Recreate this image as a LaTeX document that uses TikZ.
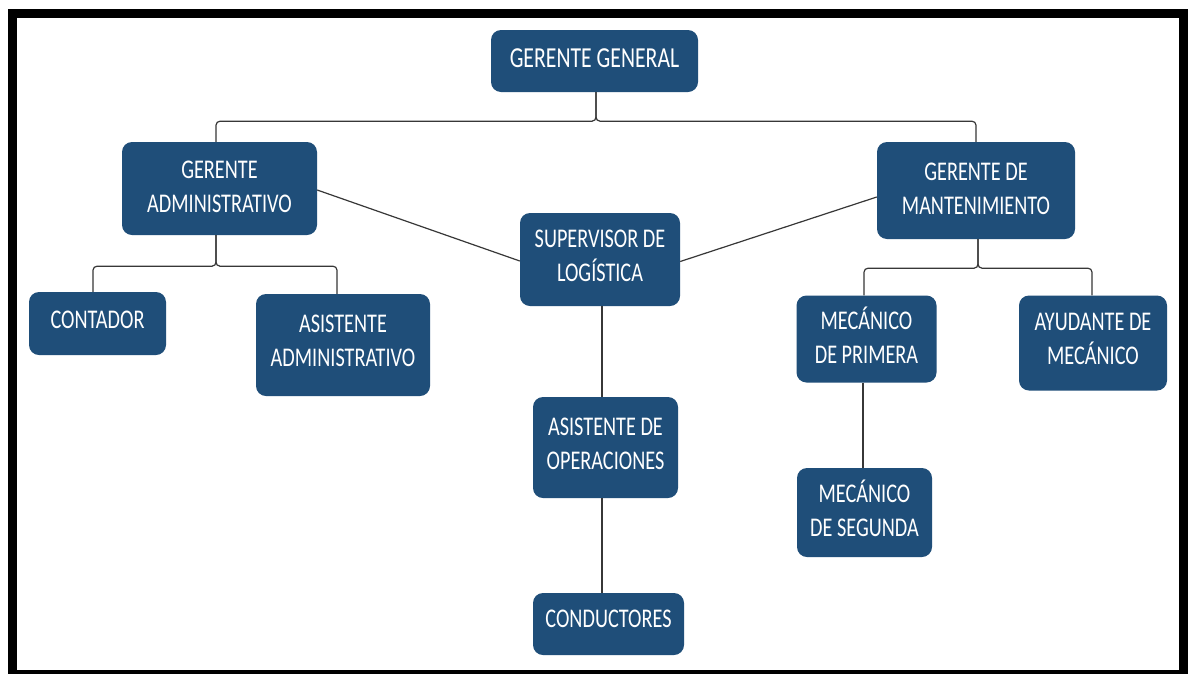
\documentclass[tikz,border=0pt]{standalone}
\usepackage{fontspec}
\usetikzlibrary{calc}
\setmainfont{Carlito}[FakeStretch=0.75]
\definecolor{boxblue}{RGB}{31,78,121}
\definecolor{linegray}{RGB}{55,55,55}
\tikzset{
  orgbox/.style={fill=boxblue, rounded corners=10pt, text=white, align=center,
    font=\fontsize{27}{34}\selectfont, inner sep=0pt, text depth=8pt},
  link/.style={draw=linegray, line width=1.2pt},
  brace/.style={link, rounded corners=4pt}
}
\begin{document}
\begin{tikzpicture}[x=1pt, y=-1pt]
\useasboundingbox (0,0) rectangle (1192,673);
\fill[white] (0,0) rectangle (1192,673);
% outer frame
\draw[line width=9pt] (12.5,13) rectangle (1183,674.5);

% boxes (centre, width, height)
\node[orgbox, minimum width=207pt, minimum height=62pt, font=\fontsize{29}{34}\selectfont, text depth=6pt] (gg) at (594.5,61) {GERENTE GENERAL};
\node[orgbox, minimum width=195pt, minimum height=93pt, text depth=4pt] (ga) at (219.5,188.5) {GERENTE\\ADMINISTRATIVO};
\node[orgbox, minimum width=198pt, minimum height=97pt, text depth=4pt] (gm) at (976,190.5) {GERENTE DE\\MANTENIMIENTO};
\node[orgbox, minimum width=160pt, minimum height=93pt] (sl) at (600,259.5) {SUPERVISOR DE\\LOGÍSTICA};
\node[orgbox, minimum width=137pt, minimum height=63pt] (cont) at (97.5,323.5) {CONTADOR};
\node[orgbox, minimum width=174pt, minimum height=102pt] (aa) at (343,345) {ASISTENTE\\ADMINISTRATIVO};
\node[orgbox, minimum width=140pt, minimum height=87pt] (mp) at (866.5,339) {MECÁNICO\\DE PRIMERA};
\node[orgbox, minimum width=148pt, minimum height=95pt] (ay) at (1093,343) {AYUDANTE DE\\MECÁNICO};
\node[orgbox, minimum width=135pt, minimum height=89pt] (ms) at (864.5,512.5) {MECÁNICO\\DE SEGUNDA};
\node[orgbox, minimum width=145pt, minimum height=101pt] (ao) at (605.5,447.5) {ASISTENTE DE\\OPERACIONES};
\node[orgbox, minimum width=151pt, minimum height=62pt, text depth=11pt] (cd) at (608.5,624) {CONDUCTORES};

% top level brace
\coordinate (ggj) at ([xshift=1.5pt]gg.south);
\draw[brace] ([xshift=-3.5pt]ga.north) |- ($(ggj)+(0,29)$) -- (ggj);
\draw[brace] (gm.north) |- ($(ggj)+(0,29)$) -- (ggj);

% administrative brace
\coordinate (gaj) at ([xshift=-3.5pt]ga.south);
\draw[brace] ([xshift=-4.5pt]cont.north) |- ($(gaj)+(0,31)$) -- (gaj);
\draw[brace] ([xshift=-6pt]aa.north) |- ($(gaj)+(0,31)$) -- (gaj);

% maintenance brace
\coordinate (gmj) at ([xshift=2pt]gm.south);
\draw[brace] ([xshift=-2.5pt]mp.north) |- ($(gmj)+(0,29)$) -- (gmj);
\draw[brace] ([xshift=-1pt]ay.north) |- ($(gmj)+(0,29)$) -- (gmj);

% diagonal links to logistics
\draw[link] ([yshift=-1.5pt]ga.east) -- ([yshift=-1.5pt]sl.west);
\draw[link] ([yshift=-6.5pt]gm.west) -- ([yshift=-2pt]sl.east);

% vertical chains
\draw[link] ([xshift=2pt]sl.south) -- ([xshift=2pt]sl.south |- ao.north);
\draw[link] ([xshift=2pt]sl.south |- ao.south) -- ([xshift=2pt]sl.south |- cd.north);
\draw[link] ([xshift=-1.5pt]ms.north |- mp.south) -- ([xshift=-1.5pt]ms.north);
\end{tikzpicture}
\end{document}
